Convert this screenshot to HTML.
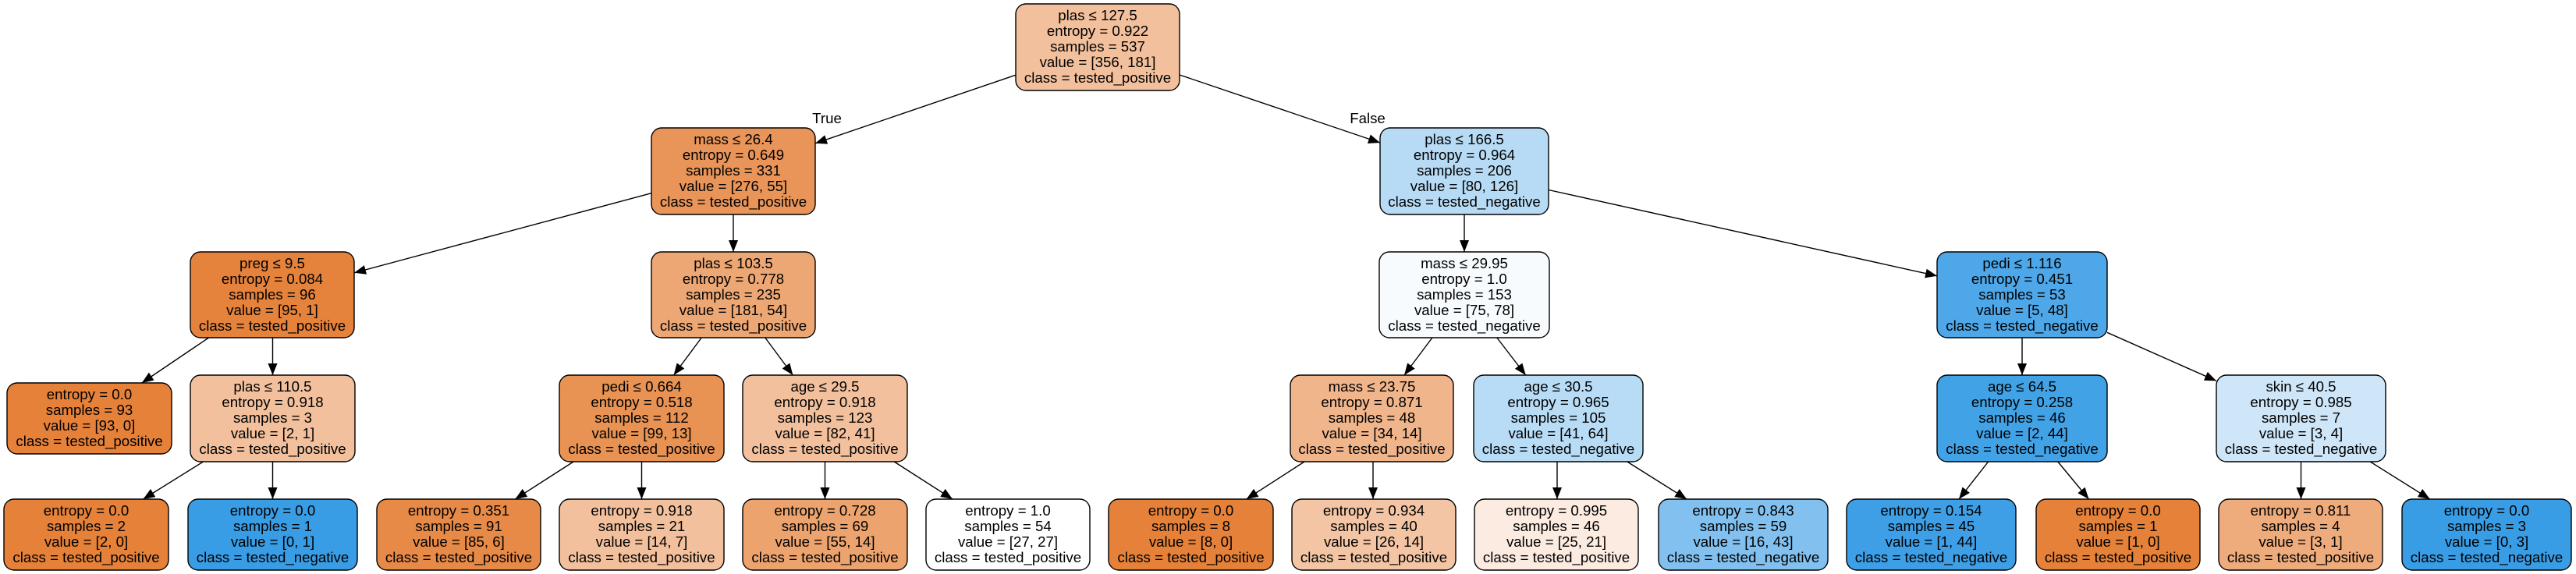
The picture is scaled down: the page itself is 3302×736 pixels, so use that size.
<!DOCTYPE html>
<html><head><meta charset="utf-8"><style>
html,body{margin:0;padding:0;background:#fff;}
svg{display:block;}
text{font-family:"Liberation Sans",Arial,sans-serif;font-size:18.67px;fill:#000;}
rect{stroke:#000;stroke-width:1.4;}
line{stroke:#000;stroke-width:1.4;}
</style></head><body>
<svg width="3302" height="736" viewBox="0 0 3302 736" xmlns="http://www.w3.org/2000/svg">
<defs><marker id="ah" markerUnits="userSpaceOnUse" markerWidth="16" markerHeight="12" refX="15" refY="6" orient="auto"><path d="M0,0 L15,6 L0,12 z" fill="#000"/></marker></defs>
<g marker-end="url(#ah)">
<line x1="1302" y1="96.2" x2="1045" y2="183.8"/>
<line x1="1512" y1="96" x2="1769" y2="183"/>
<line x1="835" y1="247.7" x2="454" y2="349.8"/>
<line x1="940" y1="275" x2="940" y2="323"/>
<line x1="1877" y1="275" x2="1877" y2="323"/>
<line x1="1985" y1="243.5" x2="2483" y2="353.8"/>
<line x1="267.6" y1="433" x2="181.8" y2="491"/>
<line x1="349.5" y1="433" x2="349.5" y2="481"/>
<line x1="899.2" y1="433" x2="863.6" y2="481"/>
<line x1="980.8" y1="433" x2="1016.4" y2="481"/>
<line x1="1835.9" y1="433" x2="1800" y2="481"/>
<line x1="1918.8" y1="433" x2="1955.7" y2="481"/>
<line x1="2592" y1="433" x2="2592" y2="481"/>
<line x1="2701" y1="426.3" x2="2841" y2="488.4"/>
<line x1="260.5" y1="592" x2="183.5" y2="640"/>
<line x1="349.5" y1="592" x2="349.5" y2="640"/>
<line x1="735.1" y1="592" x2="660.4" y2="640"/>
<line x1="822.5" y1="592" x2="822.5" y2="640"/>
<line x1="1057.5" y1="592" x2="1057.5" y2="640"/>
<line x1="1146.2" y1="592" x2="1221" y2="640"/>
<line x1="1672" y1="592" x2="1597.7" y2="640"/>
<line x1="1760" y1="592" x2="1760" y2="640"/>
<line x1="1996" y1="592" x2="1996" y2="640"/>
<line x1="2085.8" y1="592" x2="2162.1" y2="640"/>
<line x1="2548.6" y1="592" x2="2511" y2="640"/>
<line x1="2637.8" y1="592" x2="2677.5" y2="640"/>
<line x1="2949.5" y1="592" x2="2949.5" y2="640"/>
<line x1="3038.2" y1="592" x2="3114.7" y2="640"/>
</g>
<text x="1060" y="158" text-anchor="middle">True</text>
<text x="1753" y="158" text-anchor="middle">False</text>

<!-- internal nodes -->
<rect x="1302" y="5" width="210" height="111" rx="13" fill="#f2c09c"/>
<text text-anchor="middle"><tspan x="1407" y="26">plas ≤ 127.5</tspan><tspan x="1407" y="46">entropy = 0.922</tspan><tspan x="1407" y="66">samples = 537</tspan><tspan x="1407" y="86">value = [356, 181]</tspan><tspan x="1407" y="106">class = tested_positive</tspan></text>

<rect x="835" y="164" width="210" height="111" rx="13" fill="#e99559"/>
<text text-anchor="middle"><tspan x="940" y="185">mass ≤ 26.4</tspan><tspan x="940" y="205">entropy = 0.649</tspan><tspan x="940" y="225">samples = 331</tspan><tspan x="940" y="245">value = [276, 55]</tspan><tspan x="940" y="265">class = tested_positive</tspan></text>

<rect x="1769" y="164" width="216" height="111" rx="13" fill="#b7dbf5"/>
<text text-anchor="middle"><tspan x="1877" y="185">plas ≤ 166.5</tspan><tspan x="1877" y="205">entropy = 0.964</tspan><tspan x="1877" y="225">samples = 206</tspan><tspan x="1877" y="245">value = [80, 126]</tspan><tspan x="1877" y="265">class = tested_negative</tspan></text>

<rect x="244" y="323" width="210" height="110" rx="13" fill="#e5823b"/>
<text text-anchor="middle"><tspan x="349" y="344">preg ≤ 9.5</tspan><tspan x="349" y="364">entropy = 0.084</tspan><tspan x="349" y="384">samples = 96</tspan><tspan x="349" y="404">value = [95, 1]</tspan><tspan x="349" y="424">class = tested_positive</tspan></text>

<rect x="835" y="323" width="210" height="110" rx="13" fill="#eda774"/>
<text text-anchor="middle"><tspan x="940" y="344">plas ≤ 103.5</tspan><tspan x="940" y="364">entropy = 0.778</tspan><tspan x="940" y="384">samples = 235</tspan><tspan x="940" y="404">value = [181, 54]</tspan><tspan x="940" y="424">class = tested_positive</tspan></text>

<rect x="1768" y="323" width="218" height="110" rx="13" fill="#f7fbfe"/>
<text text-anchor="middle"><tspan x="1877" y="344">mass ≤ 29.95</tspan><tspan x="1877" y="364">entropy = 1.0</tspan><tspan x="1877" y="384">samples = 153</tspan><tspan x="1877" y="404">value = [75, 78]</tspan><tspan x="1877" y="424">class = tested_negative</tspan></text>

<rect x="2483" y="323" width="218" height="110" rx="13" fill="#4ea7e8"/>
<text text-anchor="middle"><tspan x="2592" y="344">pedi ≤ 1.116</tspan><tspan x="2592" y="364">entropy = 0.451</tspan><tspan x="2592" y="384">samples = 53</tspan><tspan x="2592" y="404">value = [5, 48]</tspan><tspan x="2592" y="424">class = tested_negative</tspan></text>

<!-- level 3 -->
<rect x="9" y="491" width="211" height="91" rx="13" fill="#e58139"/>
<text text-anchor="middle"><tspan x="114.5" y="512">entropy = 0.0</tspan><tspan x="114.5" y="532">samples = 93</tspan><tspan x="114.5" y="552">value = [93, 0]</tspan><tspan x="114.5" y="572">class = tested_positive</tspan></text>

<rect x="244" y="481" width="211" height="111" rx="13" fill="#f2c09c"/>
<text text-anchor="middle"><tspan x="349.5" y="502">plas ≤ 110.5</tspan><tspan x="349.5" y="522">entropy = 0.918</tspan><tspan x="349.5" y="542">samples = 3</tspan><tspan x="349.5" y="562">value = [2, 1]</tspan><tspan x="349.5" y="582">class = tested_positive</tspan></text>

<rect x="717" y="481" width="211" height="111" rx="13" fill="#e89253"/>
<text text-anchor="middle"><tspan x="822.5" y="502">pedi ≤ 0.664</tspan><tspan x="822.5" y="522">entropy = 0.518</tspan><tspan x="822.5" y="542">samples = 112</tspan><tspan x="822.5" y="562">value = [99, 13]</tspan><tspan x="822.5" y="582">class = tested_positive</tspan></text>

<rect x="952" y="481" width="211" height="111" rx="13" fill="#f2c09c"/>
<text text-anchor="middle"><tspan x="1057.5" y="502">age ≤ 29.5</tspan><tspan x="1057.5" y="522">entropy = 0.918</tspan><tspan x="1057.5" y="542">samples = 123</tspan><tspan x="1057.5" y="562">value = [82, 41]</tspan><tspan x="1057.5" y="582">class = tested_positive</tspan></text>

<rect x="1654" y="481" width="209" height="111" rx="13" fill="#f0b58b"/>
<text text-anchor="middle"><tspan x="1758.5" y="502">mass ≤ 23.75</tspan><tspan x="1758.5" y="522">entropy = 0.871</tspan><tspan x="1758.5" y="542">samples = 48</tspan><tspan x="1758.5" y="562">value = [34, 14]</tspan><tspan x="1758.5" y="582">class = tested_positive</tspan></text>

<rect x="1889" y="481" width="217" height="111" rx="13" fill="#b8dcf6"/>
<text text-anchor="middle"><tspan x="1997.5" y="502">age ≤ 30.5</tspan><tspan x="1997.5" y="522">entropy = 0.965</tspan><tspan x="1997.5" y="542">samples = 105</tspan><tspan x="1997.5" y="562">value = [41, 64]</tspan><tspan x="1997.5" y="582">class = tested_negative</tspan></text>

<rect x="2483" y="481" width="218" height="111" rx="13" fill="#42a2e6"/>
<text text-anchor="middle"><tspan x="2592" y="502">age ≤ 64.5</tspan><tspan x="2592" y="522">entropy = 0.258</tspan><tspan x="2592" y="542">samples = 46</tspan><tspan x="2592" y="562">value = [2, 44]</tspan><tspan x="2592" y="582">class = tested_negative</tspan></text>

<rect x="2841" y="481" width="217" height="111" rx="13" fill="#cee6f8"/>
<text text-anchor="middle"><tspan x="2949.5" y="502">skin ≤ 40.5</tspan><tspan x="2949.5" y="522">entropy = 0.985</tspan><tspan x="2949.5" y="542">samples = 7</tspan><tspan x="2949.5" y="562">value = [3, 4]</tspan><tspan x="2949.5" y="582">class = tested_negative</tspan></text>

<!-- level 4 leaves -->
<rect x="5" y="640" width="211" height="91" rx="13" fill="#e58139"/>
<text text-anchor="middle"><tspan x="110.5" y="661">entropy = 0.0</tspan><tspan x="110.5" y="681">samples = 2</tspan><tspan x="110.5" y="701">value = [2, 0]</tspan><tspan x="110.5" y="721">class = tested_positive</tspan></text>

<rect x="241" y="640" width="217" height="91" rx="13" fill="#399de5"/>
<text text-anchor="middle"><tspan x="349.5" y="661">entropy = 0.0</tspan><tspan x="349.5" y="681">samples = 1</tspan><tspan x="349.5" y="701">value = [0, 1]</tspan><tspan x="349.5" y="721">class = tested_negative</tspan></text>

<rect x="483" y="640" width="210" height="91" rx="13" fill="#e78a47"/>
<text text-anchor="middle"><tspan x="588" y="661">entropy = 0.351</tspan><tspan x="588" y="681">samples = 91</tspan><tspan x="588" y="701">value = [85, 6]</tspan><tspan x="588" y="721">class = tested_positive</tspan></text>

<rect x="717" y="640" width="211" height="91" rx="13" fill="#f2c09c"/>
<text text-anchor="middle"><tspan x="822.5" y="661">entropy = 0.918</tspan><tspan x="822.5" y="681">samples = 21</tspan><tspan x="822.5" y="701">value = [14, 7]</tspan><tspan x="822.5" y="721">class = tested_positive</tspan></text>

<rect x="952" y="640" width="211" height="91" rx="13" fill="#eca36e"/>
<text text-anchor="middle"><tspan x="1057.5" y="661">entropy = 0.728</tspan><tspan x="1057.5" y="681">samples = 69</tspan><tspan x="1057.5" y="701">value = [55, 14]</tspan><tspan x="1057.5" y="721">class = tested_positive</tspan></text>

<rect x="1187" y="640" width="210" height="91" rx="13" fill="#ffffff"/>
<text text-anchor="middle"><tspan x="1292" y="661">entropy = 1.0</tspan><tspan x="1292" y="681">samples = 54</tspan><tspan x="1292" y="701">value = [27, 27]</tspan><tspan x="1292" y="721">class = tested_positive</tspan></text>

<rect x="1421" y="640" width="211" height="91" rx="13" fill="#e58139"/>
<text text-anchor="middle"><tspan x="1526.5" y="661">entropy = 0.0</tspan><tspan x="1526.5" y="681">samples = 8</tspan><tspan x="1526.5" y="701">value = [8, 0]</tspan><tspan x="1526.5" y="721">class = tested_positive</tspan></text>

<rect x="1656" y="640" width="210" height="91" rx="13" fill="#f3c5a4"/>
<text text-anchor="middle"><tspan x="1761" y="661">entropy = 0.934</tspan><tspan x="1761" y="681">samples = 40</tspan><tspan x="1761" y="701">value = [26, 14]</tspan><tspan x="1761" y="721">class = tested_positive</tspan></text>

<rect x="1890" y="640" width="210" height="91" rx="13" fill="#fbebe0"/>
<text text-anchor="middle"><tspan x="1995" y="661">entropy = 0.995</tspan><tspan x="1995" y="681">samples = 46</tspan><tspan x="1995" y="701">value = [25, 21]</tspan><tspan x="1995" y="721">class = tested_positive</tspan></text>

<rect x="2126" y="640" width="217" height="91" rx="13" fill="#82c1ef"/>
<text text-anchor="middle"><tspan x="2234.5" y="661">entropy = 0.843</tspan><tspan x="2234.5" y="681">samples = 59</tspan><tspan x="2234.5" y="701">value = [16, 43]</tspan><tspan x="2234.5" y="721">class = tested_negative</tspan></text>

<rect x="2367" y="640" width="217" height="91" rx="13" fill="#3e9fe6"/>
<text text-anchor="middle"><tspan x="2475.5" y="661">entropy = 0.154</tspan><tspan x="2475.5" y="681">samples = 45</tspan><tspan x="2475.5" y="701">value = [1, 44]</tspan><tspan x="2475.5" y="721">class = tested_negative</tspan></text>

<rect x="2610" y="640" width="210" height="91" rx="13" fill="#e58139"/>
<text text-anchor="middle"><tspan x="2715" y="661">entropy = 0.0</tspan><tspan x="2715" y="681">samples = 1</tspan><tspan x="2715" y="701">value = [1, 0]</tspan><tspan x="2715" y="721">class = tested_positive</tspan></text>

<rect x="2844" y="640" width="210" height="91" rx="13" fill="#eeab7b"/>
<text text-anchor="middle"><tspan x="2949" y="661">entropy = 0.811</tspan><tspan x="2949" y="681">samples = 4</tspan><tspan x="2949" y="701">value = [3, 1]</tspan><tspan x="2949" y="721">class = tested_positive</tspan></text>

<rect x="3079" y="640" width="217" height="91" rx="13" fill="#399de5"/>
<text text-anchor="middle"><tspan x="3187.5" y="661">entropy = 0.0</tspan><tspan x="3187.5" y="681">samples = 3</tspan><tspan x="3187.5" y="701">value = [0, 3]</tspan><tspan x="3187.5" y="721">class = tested_negative</tspan></text>
</svg>
</body></html>
